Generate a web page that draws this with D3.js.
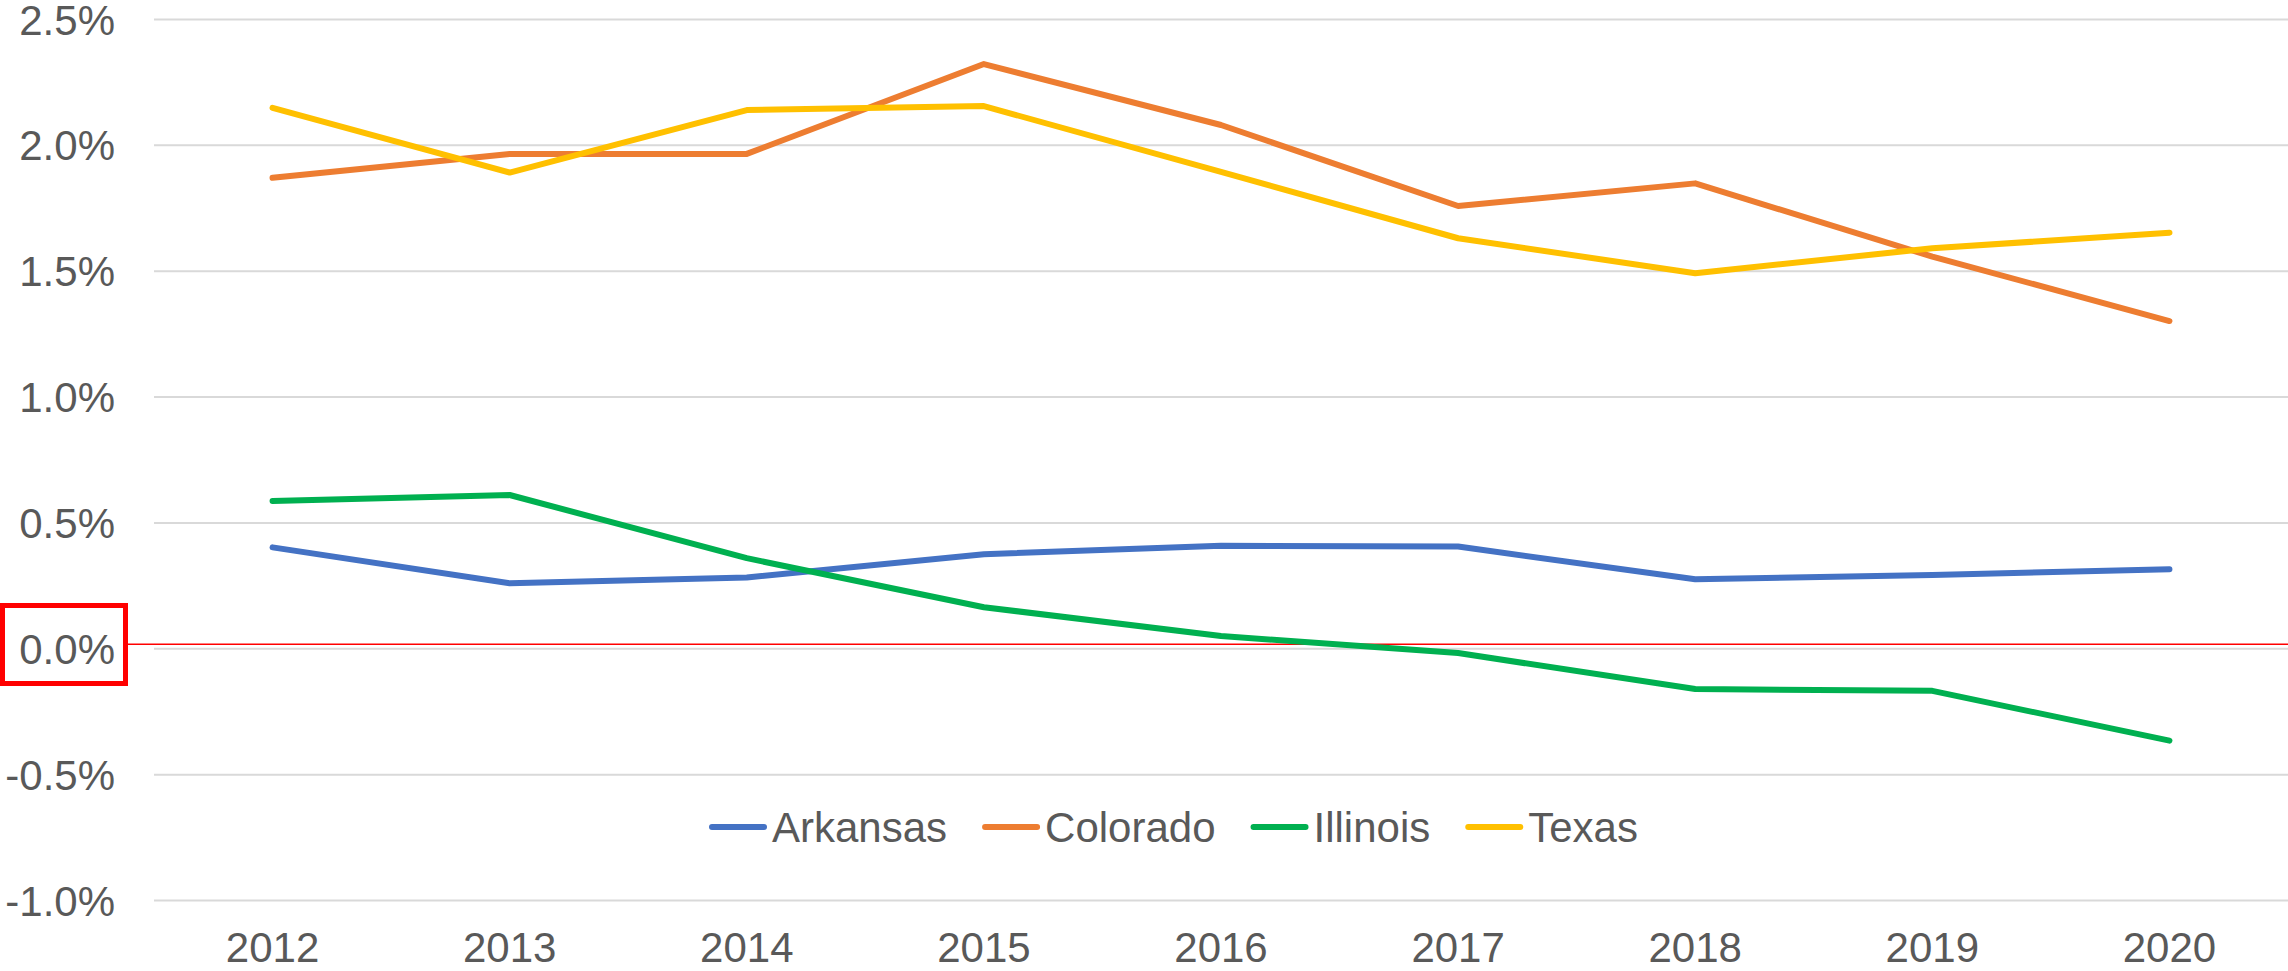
<!DOCTYPE html>
<html>
<head>
<meta charset="utf-8">
<script src="https://cdn.jsdelivr.net/npm/d3@7"></script>
<style>
  html, body { margin: 0; padding: 0; background: #ffffff; }
  svg { display: block; }
</style>
</head>
<body>
<svg id="chart" width="2288" height="971"></svg>
<script>
// ---- data ----
const years = ["2012", "2013", "2014", "2015", "2016", "2017", "2018", "2019", "2020"];
const seriesNames = ["Arkansas", "Colorado", "Illinois", "Texas"];
const arkansas = [0.401, 0.258, 0.281, 0.374, 0.407, 0.404, 0.274, 0.291, 0.314];
const colorado = [1.869, 1.964, 1.964, 2.321, 2.079, 1.757, 1.847, 1.556, 1.300];
const illinois = [0.585, 0.609, 0.358, 0.163, 0.049, -0.019, -0.162, -0.169, -0.367];
const texas    = [2.147, 1.890, 2.138, 2.154, 1.893, 1.629, 1.490, 1.589, 1.651];
const yTicks = [-1.0, -0.5, 0.0, 0.5, 1.0, 1.5, 2.0, 2.5];
const seriesColors = ["#4472C4", "#ED7D31", "#00B050", "#FFC000"];

const seriesValues = [arkansas, colorado, illinois, texas];

// ---- layout ----
const svg = d3.select("#chart");
const plotLeft = 154, plotRight = 2288;
const yTop = 19, yBottom = 900;
const font = "'Liberation Sans', Arial, sans-serif";
const textColor = "#595959";

const x = d3.scaleBand().domain(years).range([plotLeft, plotRight]).paddingInner(0).paddingOuter(0);
const y = d3.scaleLinear().domain([-1.0, 2.5]).range([yBottom, yTop]);

// gridlines + y labels
const yAxis = d3.axisLeft(y).tickValues(yTicks).tickSize(-(plotRight - plotLeft)).tickFormat(d => d.toFixed(1) + "%");
const gy = svg.append("g").attr("transform", `translate(${plotLeft},0)`).call(yAxis);
gy.select(".domain").remove();
gy.selectAll(".tick line").attr("stroke", "#D9D9D9").attr("stroke-width", 2);
gy.selectAll(".tick text")
  .attr("x", -(plotLeft - 115))
  .attr("dy", "0.36em")
  .attr("text-anchor", "end")
  .style("font-family", font)
  .style("font-size", "42px")
  .attr("fill", textColor);

// x axis labels
const xAxis = d3.axisBottom(x).tickSize(0).tickPadding(0);
const gx = svg.append("g").attr("transform", `translate(0,${yBottom})`).call(xAxis);
gx.select(".domain").remove();
gx.selectAll(".tick text")
  .attr("y", 62)
  .attr("dy", 0)
  .style("font-family", font)
  .style("font-size", "42px")
  .attr("fill", textColor);

// red highlight line near zero
svg.append("line")
  .attr("x1", 128).attr("x2", plotRight)
  .attr("y1", y(0) - 4).attr("y2", y(0) - 4)
  .attr("stroke", "#FF0000").attr("stroke-width", 1.5);

// red highlight box around the 0.0% label
svg.append("rect")
  .attr("x", 2.5).attr("y", 605.5)
  .attr("width", 123).attr("height", 78)
  .attr("fill", "none")
  .attr("stroke", "#FF0000").attr("stroke-width", 5);

// lines
const line = d3.line()
  .x((d, i) => x(years[i]) + x.bandwidth() / 2)
  .y(d => y(d));

seriesValues.forEach((vals, i) => {
  svg.append("path")
    .datum(vals)
    .attr("d", line)
    .attr("fill", "none")
    .attr("stroke", seriesColors[i])
    .attr("stroke-width", 6)
    .attr("stroke-linecap", "round")
    .attr("stroke-linejoin", "round");
});

// legend
const legendY = 827;
let lx = 712;
const legend = svg.append("g");
seriesNames.forEach((name, i) => {
  legend.append("line")
    .attr("x1", lx).attr("x2", lx + 52)
    .attr("y1", legendY).attr("y2", legendY)
    .attr("stroke", seriesColors[i]).attr("stroke-width", 6)
    .attr("stroke-linecap", "round");
  const t = legend.append("text")
    .attr("x", lx + 60)
    .attr("y", legendY + 15)
    .style("font-family", font)
    .style("font-size", "42px")
    .attr("fill", textColor)
    .text(name);
  const w = t.node().getComputedTextLength();
  lx = lx + 60 + w + 38;
});
</script>
</body>
</html>
